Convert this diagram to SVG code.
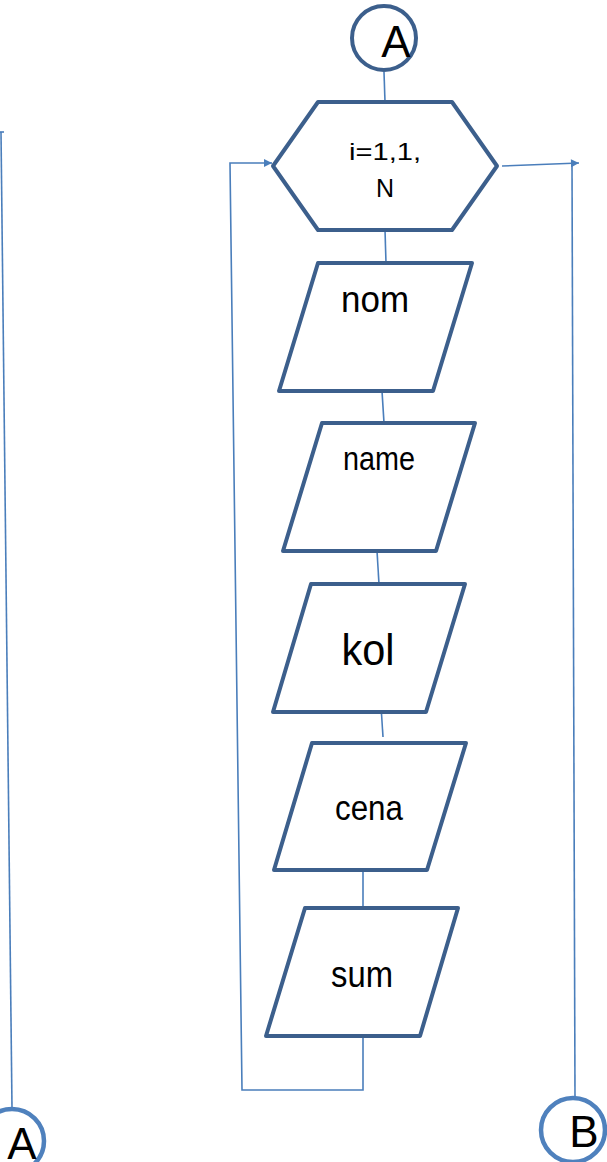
<svg xmlns="http://www.w3.org/2000/svg" width="607" height="1162" viewBox="0 0 607 1162">
  <style>
    .shape { fill: #ffffff; stroke: #3c5f8c; stroke-width: 4; stroke-linejoin: round; }
    .conn { fill: none; stroke: #4a7ebb; stroke-width: 1.6; }
    .offpage { fill: #ffffff; stroke: #4f81bd; stroke-width: 4.5; }
    .label { font-family: "Liberation Sans", Arial, sans-serif; fill: #000000; text-anchor: middle; }
  </style>
  <defs>
    <marker id="arrow" viewBox="0 0 10 10" refX="10" refY="5" markerWidth="11" markerHeight="8" markerUnits="userSpaceOnUse" orient="auto">
      <path d="M0,0 L10,5 L0,10 Z" fill="#4a7ebb"/>
    </marker>
  </defs>
  <rect width="607" height="1162" fill="#ffffff"/>

  <g id="connectors">
    <!-- left page continuation line -->
    <path class="conn" d="M1,132 L12,1108"/>
    <path class="conn" d="M0,132 L4,132"/>
    <!-- main flow -->
    <path class="conn" d="M384,72 L385,102"/>
    <path class="conn" d="M385,230 L386,263"/>
    <path class="conn" d="M382,391 L384,423"/>
    <path class="conn" d="M377,551 L379,584"/>
    <path class="conn" d="M381,706 L383,737"/>
    <path class="conn" d="M363,867 L363,920"/>
    <!-- loop back -->
    <path class="conn" d="M363,1036 L363,1090 L242,1090 L230,163 L272,163" marker-end="url(#arrow)"/>
    <!-- loop exit -->
    <path class="conn" d="M502,166 L579,163" marker-end="url(#arrow)"/>
    <path class="conn" d="M572,164 L575,1097"/>
  </g>

  <g id="connector-A-top">
    <circle class="shape" cx="384" cy="38" r="32"/>
    <text class="label" x="396" y="57" font-size="44">A</text>
  </g>

  <g id="loop">
    <polygon class="shape" points="318,102 452,102 497,166 452,230 318,230 273,166"/>
    <text class="label" x="385" y="160" font-size="24" textLength="72" lengthAdjust="spacingAndGlyphs">i=1,1,</text>
    <text class="label" x="385" y="197" font-size="25">N</text>
  </g>

  <g id="input-nom">
    <polygon class="shape" points="318,263 472,263 433,391 279,391"/>
    <text class="label" x="375" y="312" font-size="36" textLength="68" lengthAdjust="spacingAndGlyphs">nom</text>
  </g>

  <g id="input-name">
    <polygon class="shape" points="322,423 475,423 436,551 283,551"/>
    <text class="label" x="379" y="470" font-size="34" textLength="72" lengthAdjust="spacingAndGlyphs">name</text>
  </g>

  <g id="input-kol">
    <polygon class="shape" points="311,584 465,584 426,712 273,712"/>
    <text class="label" x="368" y="665" font-size="44" textLength="53" lengthAdjust="spacingAndGlyphs">kol</text>
  </g>

  <g id="input-cena">
    <polygon class="shape" points="312,743 466,743 427,870 274,870"/>
    <text class="label" x="369" y="820" font-size="35" textLength="68" lengthAdjust="spacingAndGlyphs">cena</text>
  </g>

  <g id="input-sum">
    <polygon class="shape" points="305,908 458,908 420,1036 266,1036"/>
    <text class="label" x="362" y="987" font-size="36" textLength="62" lengthAdjust="spacingAndGlyphs">sum</text>
  </g>

  <g id="connector-A-bottom">
    <circle class="offpage" cx="12" cy="1141" r="32"/>
    <text class="label" x="22" y="1159" font-size="44">A</text>
  </g>

  <g id="connector-B">
    <circle class="offpage" cx="573" cy="1130" r="32"/>
    <text class="label" x="584" y="1147" font-size="44">B</text>
  </g>
</svg>
